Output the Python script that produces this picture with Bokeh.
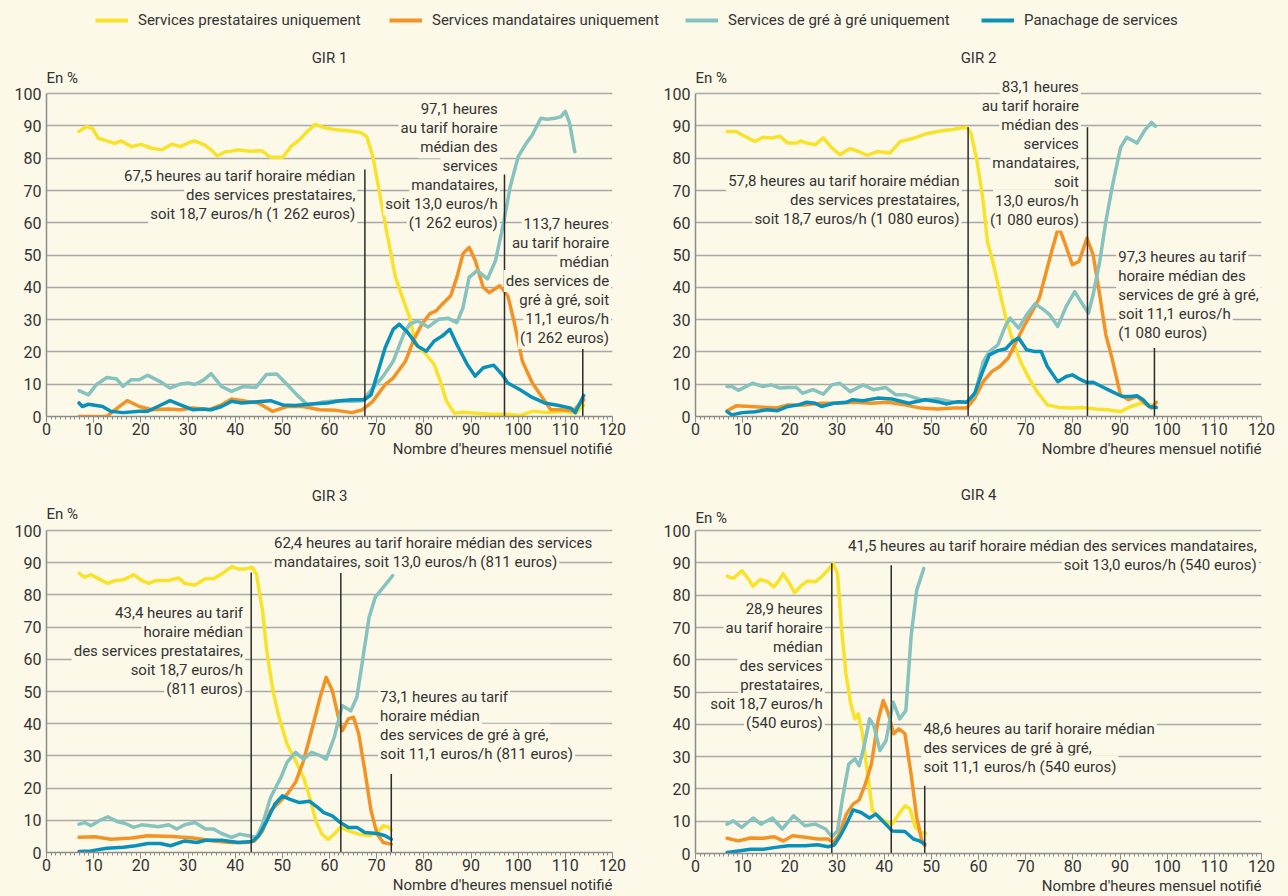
from bokeh.plotting import figure
from bokeh.models import Range1d, Label, Legend, LegendItem, SingleIntervalTicker, FixedTicker, Title
from bokeh.layouts import column, row
from bokeh.embed import file_html
from bokeh.resources import INLINE

FONT = "Roboto"
FS = "15px"
BG = "#fcf9e9"
TXT = "#333333"
GRID = "#a8a8a8"
AXIS = "#8c8c8c"

series_labels = ["Services prestataires uniquement", "Services mandataires uniquement",
                 "Services de gré à gré uniquement", "Panachage de services"]
series_colors = ["#f8e32a", "#f39325", "#86c3bf", "#0a91ba"]
x_title = "Nombre d'heures mensuel notifié"
y_title = "En %"
y_ticks = [0, 10, 20, 30, 40, 50, 60, 70, 80, 90, 100]

# ---------------- GIR 1 ----------------
g1_pre_x = [6.9, 8.4, 9.7, 11.0, 12.8, 14.5, 15.8, 18.0, 20.1, 22.3, 24.5, 26.6, 28.4, 30.1, 31.4, 33.6, 34.9, 36.2, 37.9, 39.2, 40.5, 43.1, 45.7, 47.5, 50.1, 51.8, 53.6, 55.3, 57.0, 58.8, 61.4, 63.9, 66.6, 67.9, 69.2, 70.5, 72.2, 74.0, 75.7, 77.0, 78.3, 80.5, 82.2, 83.5, 84.8, 86.5, 88.3, 90.9, 94.4, 97.8, 100.4, 103.0, 106.5, 110.0, 112.2, 113.9]
g1_pre_y = [88.3, 89.8, 89.3, 86.2, 85.4, 84.6, 85.4, 83.6, 84.3, 83.1, 82.6, 84.4, 83.6, 84.8, 85.4, 84.1, 82.6, 80.7, 82.0, 82.2, 82.6, 82.2, 82.3, 80.3, 80.3, 83.6, 85.7, 88.3, 90.5, 89.5, 88.8, 88.5, 88.0, 86.7, 80.5, 70.1, 56.6, 43.1, 35.8, 30.6, 22.3, 19.2, 16.1, 10.9, 4.7, 1.0, 1.3, 1.0, 0.7, 0.7, 0.3, 1.6, 1.2, 1.6, 1.0, 3.5]
g1_man_x = [6.9, 12.8, 14.1, 17.1, 19.7, 22.3, 25.8, 28.4, 31.0, 34.5, 37.1, 39.2, 42.3, 44.9, 47.9, 51.0, 54.4, 57.9, 61.4, 64.8, 67.0, 69.2, 71.8, 73.5, 76.1, 77.9, 79.6, 81.3, 82.6, 83.9, 85.7, 87.0, 88.3, 89.6, 90.9, 92.6, 93.9, 96.1, 97.8, 99.1, 100.9, 103.0, 105.2, 106.9, 109.1, 111.7, 113.9]
g1_man_y = [0.0, 0.0, 1.6, 4.9, 3.1, 2.1, 2.3, 2.1, 2.6, 2.1, 3.6, 5.4, 4.7, 4.2, 1.6, 3.1, 3.1, 2.1, 1.9, 1.2, 2.1, 4.7, 9.9, 11.9, 17.1, 23.9, 28.6, 31.9, 32.7, 34.8, 37.4, 43.1, 50.4, 52.4, 48.3, 40.0, 38.4, 40.5, 37.4, 29.6, 17.1, 10.4, 5.7, 2.1, 2.1, 1.8, 5.2]
g1_gag_x = [6.9, 8.9, 10.6, 12.8, 14.9, 16.2, 18.0, 19.7, 21.4, 24.0, 26.2, 28.4, 30.1, 31.4, 33.2, 34.9, 37.1, 39.2, 41.8, 44.4, 46.6, 48.8, 51.0, 53.1, 55.3, 58.8, 61.4, 64.8, 67.0, 69.2, 71.4, 73.5, 75.7, 77.0, 78.7, 80.9, 83.1, 85.2, 87.0, 88.3, 89.6, 91.3, 93.5, 95.2, 97.0, 98.3, 100.0, 101.7, 103.0, 104.8, 106.1, 107.8, 109.1, 110.0, 110.9, 112.0]
g1_gag_y = [8.0, 6.7, 9.9, 12.1, 11.6, 9.3, 11.4, 11.4, 12.8, 10.9, 8.8, 10.1, 10.4, 9.9, 11.2, 13.3, 9.3, 7.8, 9.3, 9.0, 13.0, 13.2, 9.9, 6.7, 3.6, 4.5, 4.9, 4.7, 4.9, 8.8, 12.5, 17.1, 25.4, 28.6, 29.6, 27.7, 30.1, 30.4, 29.1, 33.7, 43.1, 45.2, 42.6, 48.3, 60.7, 71.1, 80.5, 84.6, 87.2, 92.4, 92.1, 92.4, 92.9, 94.5, 90.9, 82.0]
g1_pan_x = [6.9, 7.6, 8.9, 11.9, 13.6, 16.2, 19.7, 21.4, 23.6, 26.2, 28.4, 31.0, 33.2, 34.9, 37.1, 39.2, 41.4, 44.0, 47.5, 50.1, 52.7, 56.2, 59.6, 62.2, 64.8, 67.4, 68.8, 70.1, 71.8, 73.5, 74.8, 76.6, 78.7, 80.5, 82.2, 83.9, 85.5, 87.0, 89.2, 90.9, 92.6, 94.8, 96.6, 97.8, 100.4, 103.0, 105.6, 108.6, 111.2, 112.1, 113.9]
g1_pan_y = [4.2, 3.1, 3.8, 3.1, 1.6, 1.2, 1.6, 1.6, 3.1, 4.9, 3.6, 2.1, 2.3, 2.1, 3.1, 4.7, 4.2, 4.5, 4.9, 3.6, 3.4, 3.9, 4.2, 4.9, 5.2, 5.2, 6.7, 13.0, 21.3, 27.0, 28.6, 26.0, 21.8, 20.2, 23.4, 24.9, 27.0, 22.3, 16.1, 12.5, 15.1, 15.9, 13.0, 10.4, 8.3, 5.9, 4.2, 3.4, 2.6, 1.2, 6.5]
g1_med = [67.5, 97.1, 113.7]
g1_med_top = [76.5, 75.0, 21.8]
g1_notes = [
    ["67,5 heures au tarif horaire médian", "des services prestataires,", "soit 18,7 euros/h (1 262 euros)"],
    ["97,1 heures", "au tarif horaire", "médian des", "services", "mandataires,", "soit 13,0 euros/h", "(1 262 euros)"],
    ["113,7 heures", "au tarif horaire", "médian", "des services de", "gré à gré, soit", "11,1 euros/h", "(1 262 euros)"],
]
g1_note_x = [65.9, 96.1, 119.7]
g1_note_y = [74.6, 95.2, 59.6]
g1_note_align = ["right", "right", "right"]

# ---------------- GIR 2 ----------------
g2_pre_x = [6.7, 8.6, 10.4, 12.6, 14.3, 16.1, 17.9, 19.6, 21.4, 22.3, 23.6, 25.4, 27.1, 28.9, 30.6, 32.8, 34.6, 36.4, 38.6, 41.2, 43.4, 46.0, 48.7, 51.3, 54.0, 56.2, 57.5, 58.4, 59.7, 61.0, 61.9, 63.2, 64.5, 65.8, 67.2, 68.9, 70.7, 72.4, 74.6, 76.8, 79.5, 82.1, 84.8, 87.4, 90.1, 92.3, 94.5, 96.7, 97.5]
g2_pre_y = [88.3, 88.3, 86.8, 85.2, 86.5, 86.3, 86.8, 84.7, 84.7, 85.4, 84.7, 84.2, 86.3, 83.2, 81.1, 83.0, 82.1, 80.9, 82.1, 81.6, 85.2, 86.1, 87.5, 88.3, 88.8, 89.4, 89.6, 87.8, 79.0, 66.6, 54.2, 47.0, 38.7, 30.5, 23.8, 17.0, 11.9, 7.7, 3.6, 2.9, 2.6, 2.8, 2.3, 2.1, 1.5, 3.1, 4.1, 3.6, 3.1]
g2_man_x = [6.7, 8.6, 11.7, 14.3, 17.0, 19.6, 23.2, 26.7, 30.2, 33.7, 37.2, 40.8, 44.3, 47.8, 51.3, 54.8, 57.5, 59.2, 61.0, 62.8, 64.5, 66.3, 68.0, 69.8, 71.6, 72.9, 74.2, 75.5, 77.0, 78.2, 79.9, 81.3, 83.0, 84.3, 85.7, 87.0, 88.3, 90.1, 91.8, 93.6, 95.3, 96.7, 97.7]
g2_man_y = [1.8, 3.3, 3.1, 2.9, 2.6, 3.6, 3.6, 4.1, 4.1, 4.4, 4.1, 4.4, 3.6, 2.6, 2.3, 2.6, 2.6, 5.7, 10.8, 13.9, 15.5, 18.1, 23.2, 28.4, 33.1, 36.7, 43.9, 51.1, 58.9, 54.2, 47.0, 48.0, 55.3, 50.1, 37.7, 25.3, 18.1, 6.7, 5.2, 6.2, 4.1, 2.6, 4.4]
g2_gag_x = [6.7, 7.7, 9.1, 12.1, 14.3, 16.1, 17.9, 19.6, 21.4, 22.7, 24.9, 27.1, 28.9, 30.6, 32.8, 35.5, 37.7, 40.3, 42.5, 44.7, 47.8, 51.3, 54.8, 57.5, 59.2, 61.0, 62.3, 64.1, 65.8, 66.7, 68.5, 70.2, 72.0, 73.8, 75.1, 76.8, 78.6, 80.4, 81.7, 83.3, 84.3, 85.7, 87.0, 88.3, 90.1, 91.4, 93.6, 95.3, 96.7, 97.5]
g2_gag_y = [9.3, 9.3, 8.1, 10.3, 9.3, 9.8, 8.8, 9.0, 9.0, 7.2, 8.3, 6.9, 9.8, 10.3, 7.7, 9.8, 8.3, 9.0, 6.7, 6.7, 5.2, 5.4, 4.4, 4.4, 6.7, 17.0, 20.1, 22.2, 28.4, 30.5, 27.4, 31.5, 34.9, 33.1, 31.5, 27.9, 34.1, 38.7, 35.6, 32.0, 37.7, 48.0, 60.4, 70.8, 83.2, 86.5, 84.7, 88.8, 91.1, 89.9]
g2_pan_x = [6.7, 7.7, 9.9, 12.6, 15.2, 17.4, 19.6, 21.8, 23.6, 25.4, 26.7, 29.3, 32.0, 33.3, 35.5, 38.6, 41.6, 45.2, 48.7, 51.3, 53.1, 55.7, 57.5, 59.2, 60.6, 62.3, 64.1, 65.8, 67.2, 68.5, 70.2, 72.0, 73.3, 74.6, 76.8, 78.6, 79.9, 81.7, 83.0, 84.3, 86.1, 88.3, 90.5, 92.3, 93.6, 94.9, 96.2, 97.7]
g2_pan_y = [1.5, 0.5, 1.2, 1.5, 2.1, 1.8, 3.1, 3.6, 4.4, 4.1, 3.1, 4.1, 4.4, 5.2, 4.9, 5.7, 5.4, 4.1, 5.2, 4.6, 3.9, 4.6, 4.4, 7.2, 12.9, 19.1, 20.4, 21.0, 23.2, 24.3, 20.7, 20.1, 20.1, 15.5, 10.8, 12.4, 12.9, 11.4, 10.5, 10.6, 9.3, 7.7, 6.2, 6.2, 6.4, 5.2, 3.1, 2.8]
g2_med = [57.8, 83.1, 97.3]
g2_med_top = [89.6, 89.6, 21.2]
g2_notes = [
    ["57,8 heures au tarif horaire médian", "des services prestataires,", "soit 18,7 euros/h (1 080 euros)"],
    ["83,1 heures", "au tarif horaire", "médian des", "services", "mandataires,", "soit", "13,0 euros/h", "(1 080 euros)"],
    ["97,3 heures au tarif", "horaire médian des", "services de gré à gré,", "soit 11,1 euros/h", "(1 080 euros)"],
]
g2_note_x = [56.4, 81.7, 89.2]
g2_note_y = [73.0, 102.2, 49.4]
g2_note_align = ["right", "right", "left"]

# ---------------- GIR 3 ----------------
g3_pre_x = [6.9, 8.1, 9.4, 11.1, 13.0, 14.6, 16.3, 18.5, 20.2, 21.7, 23.3, 25.9, 28.0, 29.3, 31.5, 33.7, 35.4, 37.6, 39.3, 40.6, 42.3, 43.6, 44.5, 45.8, 46.7, 48.0, 49.3, 51.0, 52.8, 54.5, 55.8, 57.1, 58.4, 59.7, 61.0, 62.3, 64.0, 66.2, 68.4, 70.1, 71.4, 72.7, 73.1]
g3_pre_y = [86.7, 85.5, 86.3, 85.0, 83.6, 84.5, 84.7, 86.3, 84.5, 83.6, 84.5, 84.5, 85.3, 83.6, 83.1, 85.0, 85.0, 87.0, 88.8, 88.1, 88.1, 88.6, 86.5, 75.1, 62.7, 50.3, 42.0, 33.7, 28.5, 23.3, 17.1, 9.8, 5.7, 4.1, 5.7, 7.8, 6.7, 5.7, 5.2, 6.2, 8.3, 7.8, 7.0]
g3_man_x = [6.9, 10.2, 13.7, 18.0, 21.5, 26.7, 31.1, 35.4, 38.9, 42.3, 44.1, 45.8, 47.5, 49.3, 51.0, 52.8, 54.5, 56.2, 58.0, 59.3, 60.6, 61.9, 62.7, 64.0, 65.1, 66.2, 67.5, 68.8, 70.1, 71.4, 73.1]
g3_man_y = [4.7, 4.9, 4.1, 4.5, 5.2, 5.0, 4.5, 3.6, 3.1, 3.1, 3.6, 6.7, 13.0, 15.5, 18.1, 21.8, 28.5, 37.8, 48.2, 54.4, 50.3, 42.0, 37.8, 41.5, 42.0, 36.8, 25.4, 13.0, 5.7, 3.1, 2.6]
g3_gag_x = [6.9, 8.1, 9.4, 11.1, 13.0, 15.0, 16.7, 18.5, 20.2, 22.0, 23.7, 25.9, 27.6, 29.3, 31.5, 33.7, 35.4, 37.1, 39.3, 41.0, 42.8, 44.5, 45.8, 47.5, 49.7, 51.0, 52.8, 54.5, 56.2, 58.0, 59.3, 61.0, 62.7, 64.5, 65.8, 67.1, 68.4, 69.7, 71.4, 73.4]
g3_gag_y = [8.8, 9.3, 8.3, 9.8, 11.1, 9.6, 9.0, 7.8, 8.6, 8.3, 8.0, 8.6, 7.3, 8.6, 9.3, 7.3, 7.3, 5.9, 4.7, 5.7, 5.2, 4.7, 8.8, 17.1, 23.3, 28.0, 31.1, 29.0, 31.1, 30.1, 29.0, 35.8, 45.6, 44.0, 48.2, 60.6, 73.1, 79.3, 82.4, 86.0]
g3_pan_x = [6.9, 9.4, 12.8, 16.3, 18.9, 21.5, 24.1, 26.3, 29.3, 31.9, 33.7, 37.1, 40.6, 43.6, 45.0, 46.7, 48.4, 50.0, 51.5, 53.6, 55.8, 57.5, 58.8, 60.6, 62.3, 64.0, 65.8, 67.5, 70.1, 71.8, 73.1]
g3_pan_y = [0.3, 0.5, 1.3, 1.6, 2.1, 2.8, 2.8, 2.1, 3.6, 3.1, 3.8, 3.8, 3.1, 3.4, 5.2, 9.8, 15.0, 17.6, 16.6, 15.5, 15.9, 14.0, 12.4, 11.4, 9.3, 7.8, 7.8, 6.2, 5.9, 5.2, 4.1]
g3_med = [43.4, 62.4, 73.1]
g3_med_top = [87.0, 87.4, 24.4]
g3_notes = [
    ["43,4 heures au tarif", "horaire médian", "des services prestataires,", "soit 18,7 euros/h", "(811 euros)"],
    ["62,4 heures au tarif horaire médian des services", "mandataires, soit 13,0 euros/h (811 euros)"],
    ["73,1 heures au tarif", "horaire médian", "des services de gré à gré,", "soit 11,1 euros/h (811 euros)"],
]
g3_note_x = [42.1, 47.8, 70.3]
g3_note_y = [74.3, 96.1, 48.4]
g3_note_align = ["right", "left", "left"]

# ---------------- GIR 4 ----------------
g4_pre_x = [6.7, 8.0, 9.8, 10.9, 12.2, 13.7, 15.3, 16.6, 17.5, 18.6, 19.7, 21.0, 22.3, 23.7, 25.4, 26.7, 28.1, 29.2, 30.1, 31.0, 31.9, 32.9, 33.8, 34.5, 35.4, 36.5, 37.5, 38.7, 40.0, 41.7, 43.1, 44.4, 45.5, 46.6, 47.9, 48.8]
g4_pre_y = [85.9, 85.2, 87.6, 85.7, 82.8, 84.9, 84.2, 82.6, 84.2, 86.7, 84.2, 80.8, 82.8, 84.4, 84.2, 85.7, 87.8, 89.9, 86.7, 69.2, 55.7, 46.4, 41.7, 43.3, 37.1, 24.6, 13.3, 11.7, 10.1, 9.1, 12.2, 14.8, 13.8, 8.1, 6.5, 6.2]
g4_man_x = [6.7, 9.1, 11.7, 14.4, 16.6, 18.6, 20.6, 23.2, 25.9, 28.1, 29.2, 30.3, 32.0, 33.4, 34.7, 36.0, 37.3, 38.7, 39.8, 40.9, 42.0, 43.1, 44.4, 45.7, 46.9, 47.9, 48.6]
g4_man_y = [4.7, 3.9, 4.8, 4.7, 5.2, 3.9, 5.5, 5.0, 4.5, 4.5, 3.4, 5.5, 12.2, 15.3, 16.6, 21.5, 27.7, 41.2, 47.4, 43.3, 37.1, 38.6, 37.1, 24.6, 11.2, 4.5, 2.4]
g4_gag_x = [6.7, 8.0, 9.8, 12.2, 13.9, 16.3, 18.4, 20.8, 23.2, 25.4, 27.6, 28.9, 30.1, 31.2, 32.5, 33.8, 34.7, 35.7, 36.9, 37.8, 39.1, 40.4, 41.9, 43.3, 44.6, 45.7, 46.9, 48.4]
g4_gag_y = [9.1, 10.1, 8.1, 11.0, 9.1, 11.0, 7.6, 11.7, 8.6, 9.1, 7.6, 5.2, 7.0, 17.4, 27.7, 29.3, 27.2, 32.9, 41.7, 39.6, 31.9, 35.0, 46.9, 41.7, 44.3, 67.1, 81.6, 88.3]
g4_pan_x = [6.7, 9.1, 11.7, 14.4, 17.0, 19.7, 23.2, 25.9, 28.1, 29.4, 30.7, 32.0, 33.4, 35.1, 36.9, 38.2, 40.0, 41.7, 44.4, 46.2, 47.5, 48.6]
g4_pan_y = [0.3, 0.8, 1.3, 1.3, 1.9, 2.4, 2.4, 2.7, 2.1, 2.6, 5.5, 9.1, 13.5, 12.7, 11.0, 12.2, 9.6, 7.0, 6.8, 4.5, 3.9, 2.9]
g4_med = [28.9, 41.5, 48.6]
g4_med_top = [89.9, 89.3, 21.0]
g4_notes = [
    ["28,9 heures", "au tarif horaire", "médian", "des services", "prestataires,", "soit 18,7 euros/h", "(540 euros)"],
    ["41,5 heures au tarif horaire médian des services mandataires,", "soit 13,0 euros/h (540 euros)"],
    ["48,6 heures au tarif horaire médian", "des services de gré à gré,", "soit 11,1 euros/h (540 euros)"],
]
g4_note_x = [27.4, 119.4, 47.9]
g4_note_y = [75.7, 95.4, 38.7]
g4_note_align = ["right", "right", "left"]

panel_titles = ["GIR 1", "GIR 2", "GIR 3", "GIR 4"]

Y_TOP = 114


def make_panel(title, series, med, med_top, notes, note_x, note_y, note_align,
               left, right, top, bottom, fh, title_y, en_y):
    p = figure(frame_width=566, frame_height=round(fh * Y_TOP / 100), x_range=Range1d(0, 120),
               y_range=Range1d(0, Y_TOP), toolbar_location=None, output_backend="svg",
               min_border_left=left, min_border_right=right, min_border_top=top, min_border_bottom=bottom,
               background_fill_color=BG, border_fill_color=BG)
    p.outline_line_color = None
    p.xgrid.visible = False
    p.ygrid.grid_line_color = GRID
    p.ygrid.grid_line_width = 1.5
    p.xaxis.ticker = SingleIntervalTicker(interval=10, num_minor_ticks=10)
    p.yaxis.ticker = FixedTicker(ticks=y_ticks)
    p.ygrid.ticker = p.yaxis.ticker
    p.yaxis.bounds = (0, 100)
    for ax in (p.xaxis[0], p.yaxis[0]):
        ax.axis_line_color = AXIS
        ax.axis_line_width = 1.5
        ax.major_tick_line_color = AXIS
        ax.minor_tick_line_color = AXIS
        ax.major_label_text_font = FONT
        ax.major_label_text_font_size = "16px"
        ax.major_label_text_color = TXT
    p.xaxis.major_tick_out = 6
    p.xaxis.major_tick_in = 0
    p.xaxis.minor_tick_out = 3
    p.xaxis.minor_tick_in = 0
    p.xaxis.major_label_standoff = 0
    p.yaxis.major_tick_out = 0
    p.yaxis.major_tick_in = 0
    p.yaxis.minor_tick_out = 0
    p.yaxis.major_label_standoff = 5

    for (xs, ys), c in zip(series, series_colors):
        p.line(xs, ys, line_color=c, line_width=3.5, line_join="round", line_cap="round")
    p.segment(x0=med, y0=[0] * len(med), x1=med, y1=med_top, line_color="#2b2b2b", line_width=1.5)

    step = 19.0 / (fh / 100.0)
    for lines, nx, ny, al in zip(notes, note_x, note_y, note_align):
        for i, t in enumerate(lines):
            p.add_layout(Label(x=nx, y=ny - i * step, text=t, text_align=al, text_baseline="middle",
                               text_font=FONT, text_font_size=FS, text_color=TXT,
                               background_fill_color=BG, padding=2))
    p.add_layout(Label(x=60, y=title_y, text=title, text_align="center", text_baseline="middle",
                       text_font=FONT, text_font_size=FS, text_color=TXT))
    p.add_layout(Label(x=0, y=en_y, text=y_title, text_align="left", text_baseline="middle",
                       text_font=FONT, text_font_size=FS, text_color=TXT))
    p.add_layout(Title(text=x_title, align="right", text_font=FONT, text_font_size=FS,
                       text_font_style="normal", text_color=TXT, standoff=0), "below")
    return p


p1 = make_panel(panel_titles[0],
                [(g1_pre_x, g1_pre_y), (g1_man_x, g1_man_y), (g1_gag_x, g1_gag_y), (g1_pan_x, g1_pan_y)],
                g1_med, g1_med_top, g1_notes, g1_note_x, g1_note_y, g1_note_align,
                46, 40, 0, 50, 323, 111.1, 105.0)
p2 = make_panel(panel_titles[1],
                [(g2_pre_x, g2_pre_y), (g2_man_x, g2_man_y), (g2_gag_x, g2_gag_y), (g2_pan_x, g2_pan_y)],
                g2_med, g2_med_top, g2_notes, g2_note_x, g2_note_y, g2_note_align,
                43, 25, 0, 50, 323, 111.1, 105.0)
p3 = make_panel(panel_titles[2],
                [(g3_pre_x, g3_pre_y), (g3_man_x, g3_man_y), (g3_gag_x, g3_gag_y), (g3_pan_x, g3_pan_y)],
                g3_med, g3_med_top, g3_notes, g3_note_x, g3_note_y, g3_note_align,
                46, 40, 16, 45, 322, 110.6, 105.3)
p4 = make_panel(panel_titles[3],
                [(g4_pre_x, g4_pre_y), (g4_man_x, g4_man_y), (g4_gag_x, g4_gag_y), (g4_pan_x, g4_pan_y)],
                g4_med, g4_med_top, g4_notes, g4_note_x, g4_note_y, g4_note_align,
                43, 25, 19, 41, 323, 111.1, 104.0)

# ---------------- legend strip ----------------
lg = figure(width=1286, height=48, x_range=Range1d(0, 1), y_range=Range1d(0, 1),
            x_axis_type=None, y_axis_type=None, toolbar_location=None, output_backend="svg",
            min_border=0, background_fill_color=BG, border_fill_color=BG)
lg.outline_line_color = None
legend_x = [95, 389, 685, 981]
legend_src = [(g1_pre_x, g1_pre_y), (g1_man_x, g1_man_y), (g1_gag_x, g1_gag_y), (g1_pan_x, g1_pan_y)]
for lab, c, lx, (sx, sy) in zip(series_labels, series_colors, legend_x, legend_src):
    r = lg.line(sx, sy, line_color=c, line_width=4)   # proxy renderer (outside the strip's ranges)
    leg = Legend(items=[LegendItem(label=lab, renderers=[r])], location=(lx, 18),
                 orientation="horizontal", padding=0, margin=0, spacing=0,
                 glyph_width=33, glyph_height=20, label_height=20, label_standoff=10,
                 label_text_font=FONT, label_text_font_size=FS, label_text_color=TXT,
                 border_line_color=None, background_fill_alpha=0)
    lg.add_layout(leg, "center")

layout = column(lg, row(p1, p2), row(p3, p4))
html = file_html(layout, INLINE, title="GIR")
html = html.replace("<head>", "<head><style>body{background:#fcf9e9;}</style>", 1)
open("out.html", "w", encoding="utf-8").write(html)
